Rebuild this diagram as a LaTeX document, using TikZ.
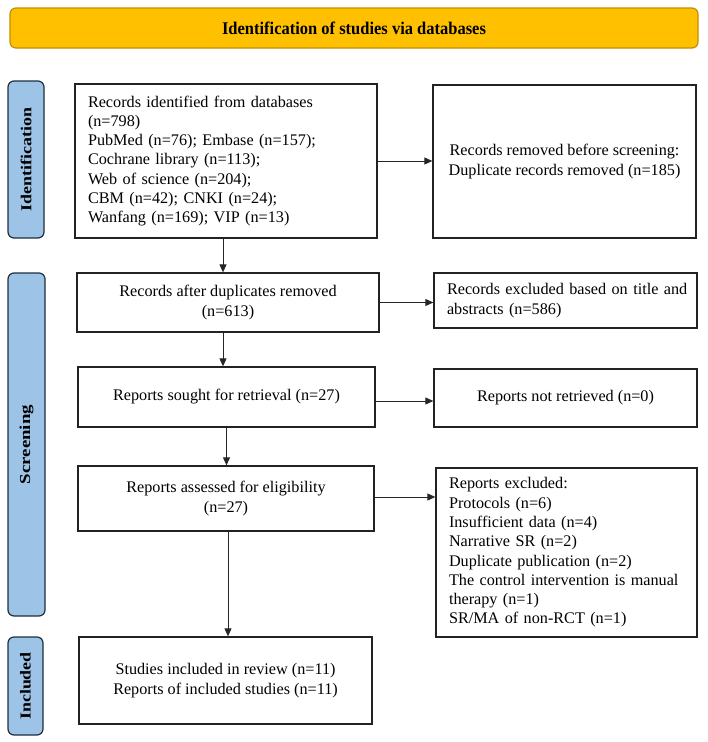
\documentclass[tikz,border=0pt]{standalone}
\usepackage{fontspec}
\setmainfont{Liberation Serif}
\usetikzlibrary{arrows.meta,calc}
\definecolor{gold}{HTML}{FFC000}
\definecolor{goldline}{HTML}{BF9000}
\definecolor{sideblue}{HTML}{9DC3E6}
\definecolor{sideline}{HTML}{1F2F40}
\definecolor{boxline}{HTML}{222222}
\tikzset{
  x=1pt, y=-1pt,
  box/.style={draw=boxline, line width=1.3pt, fill=white, inner sep=0pt, align=center,
    font=\fontsize{16.2}{19.3}\selectfont},
  lbox/.style={box, align=left, inner xsep=13pt},
  side/.style={draw=sideline, line width=1.2pt, fill=sideblue, rounded corners=6pt, inner sep=0pt},
  sidetext/.style={rotate=90, inner sep=0pt, font=\fontsize{16}{19}\selectfont\bfseries},
  banner/.style={draw=goldline, line width=1.2pt, fill=gold, rounded corners=6pt, inner sep=0pt,
    font=\fontsize{17}{20}\selectfont\bfseries},
  arr/.style={draw=black!85, line width=0.9pt, -{Triangle[length=8pt,width=7pt]}}
}
\begin{document}
\begin{tikzpicture}
\useasboundingbox (0,0) rectangle (708,742);
% banner
\node[banner, minimum width=688pt, minimum height=40pt] (ban) at (354,28) {\scalebox{0.97}[1.05]{Identification of studies via databases}};
% side labels
\node[side, minimum width=36pt, minimum height=157pt] (sid) at (26,159.5) {};
\node[sidetext] (sidt) at (sid.center) {\scalebox{1.12}[0.95]{Identification}};
\node[side, minimum width=37pt, minimum height=343pt] (sscr) at (26.5,444.5) {};
\node[sidetext] (sscrt) at (sscr.center) {\scalebox{1.18}[0.95]{Screening}};
\node[side, minimum width=35pt, minimum height=98pt] (sinc) at (25.5,686) {};
\node[sidetext] (sinct) at (sinc.center) {\scalebox{1.12}[0.95]{Included}};
% boxes
\node[lbox, text width=276pt, minimum height=154pt] (A) at (226,161) {Records identified from databases\\(n=798)\\PubMed (n=76); Embase (n=157);\\Cochrane library (n=113);\\Web of science (n=204);\\CBM (n=42); CNKI (n=24);\\Wanfang (n=169); VIP (n=13)};
\node[box, minimum width=263pt, minimum height=153pt] (B) at (564.5,161.5) {Records removed before screening:\\Duplicate records removed (n=185)};
\node[box, minimum width=302pt, minimum height=59pt] (C) at (228,302.5) {Records after duplicates removed\\(n=613)};
\node[lbox, text width=237pt, minimum height=55pt] (D) at (565.5,300.5) {\mbox{Records excluded based on title and}\\abstracts (n=586)};
\node[box, minimum width=297pt, minimum height=60pt] (E) at (226.5,397) {Reports sought for retrieval (n=27)};
\node[box, minimum width=263pt, minimum height=58pt] (F) at (565.5,398) {Reports not retrieved (n=0)};
\node[box, minimum width=296pt, minimum height=65pt] (G) at (226,498.5) {Reports assessed for eligibility\\(n=27)};
\node[lbox, text width=235pt, minimum height=169pt] (H) at (566.5,552.5) {Reports excluded:\\Protocols (n=6)\\Insufficient data (n=4)\\Narrative SR (n=2)\\Duplicate publication (n=2)\\\mbox{The control intervention is manual}\\therapy (n=1)\\SR/MA of non-RCT (n=1)};
\node[box, minimum width=293pt, minimum height=87pt] (I) at (225.5,680.5) {Studies included in review (n=11)\\Reports of included studies (n=11)};
% vertical arrows
\coordinate (a1) at ($(A.south)+(-3,0)$);
\draw[arr] (a1) -- (a1 |- C.north);
\coordinate (a2) at ($(C.south)+(-5,0)$);
\draw[arr] (a2) -- (a2 |- E.north);
\draw[arr] (E.south) -- (E.south |- G.north);
\coordinate (a4) at ($(G.south)+(2,0)$);
\draw[arr] (a4) -- (a4 |- I.north);
% horizontal arrows
\draw[arr] (A.east) -- (A.east -| B.west);
\draw[arr] (C.east) -- (C.east -| D.west);
\coordinate (h3) at ($(E.east)+(0,4)$);
\draw[arr] (h3) -- (h3 -| F.west);
\coordinate (h4) at ($(G.east)+(0,-1.5)$);
\draw[arr] (h4) -- (h4 -| H.west);
\end{tikzpicture}
\end{document}
